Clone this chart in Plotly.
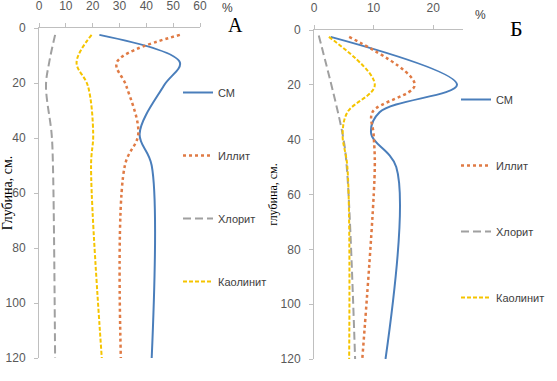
import plotly.graph_objects as go

# ---------------- data ----------------
series_names = ["СМ", "Иллит", "Хлорит", "Каолинит"]

# Panel А
depth_A = [2.5, 12.5, 21, 38.5, 50, 120]
A_cm = [22.5, 52.5, 46.5, 37.5, 42.0, 42.0]
A_illite = [52.5, 29.0, 32.5, 37.0, 32.0, 30.5]
A_chlorite = [6.0, 3.8, 2.6, 4.7, 5.2, 6.0]
A_kaolinite = [19.6, 14.0, 18.2, 20.2, 19.4, 23.4]

# Panel Б
depth_B = [2.5, 20, 30, 38, 50, 120]
B_cm = [2.8, 24.0, 11.0, 9.6, 13.8, 12.0]
B_illite = [5.9, 16.9, 9.8, 10.0, 10.2, 8.1]
depth_B_chl = [2.0, 38, 50, 120]
B_chlorite = [0.8, 4.8, 5.5, 6.9]
B_kaolinite = [2.5, 10.2, 5.6, 4.8, 5.6, 5.9]

x_ticks_A = [0, 10, 20, 30, 40, 50, 60]
x_ticks_B = [0, 10, 20]
y_ticks = [0, 20, 40, 60, 80, 100, 120]

# ---------------- styles ----------------
colors = {"СМ": "#4a7ebb", "Иллит": "#e07b45", "Хлорит": "#a0a0a0", "Каолинит": "#f5c400"}
dashes = {"СМ": "solid", "Иллит": "dot", "Хлорит": "8px,4px", "Каолинит": "4px,2px"}
widths = {"СМ": 2, "Иллит": 2.5, "Хлорит": 2, "Каолинит": 2}

W, H = 557, 381
fig = go.Figure()

panelA = [(depth_A, A_cm), (depth_A, A_illite), (depth_A, A_chlorite), (depth_A, A_kaolinite)]
panelB = [(depth_B, B_cm), (depth_B, B_illite), (depth_B_chl, B_chlorite), (depth_B, B_kaolinite)]

for name, (d, v) in zip(series_names, panelA):
    fig.add_trace(go.Scatter(
        x=v, y=d, mode="lines", name=name, legend="legend", legendgroup="A" + name,
        line=dict(color=colors[name], dash=dashes[name], width=widths[name], shape="spline", smoothing=1.0),
        xaxis="x", yaxis="y"))
for name, (d, v) in zip(series_names, panelB):
    fig.add_trace(go.Scatter(
        x=v, y=d, mode="lines", name=name, legend="legend2", legendgroup="B" + name,
        line=dict(color=colors[name], dash=dashes[name], width=widths[name], shape="spline", smoothing=1.0),
        xaxis="x2", yaxis="y2"))

axis_color = "#bfbfbf"
tick_font = dict(family="Liberation Sans", size=12, color="#595959")

common_x = dict(side="top", showgrid=False, zeroline=False, showline=True, linecolor=axis_color,
                linewidth=1, ticks="outside", ticklen=4, tickcolor=axis_color, tickfont=tick_font,
                ticklabelstandoff=8, automargin=False)
common_y = dict(showgrid=False, zeroline=False, showline=True, linecolor=axis_color, linewidth=1,
                ticks="outside", ticklen=4, tickcolor=axis_color, tickfont=tick_font,
                range=[120, 0], tickvals=y_ticks, ticklabelstandoff=6, automargin=False)

leg_font = dict(family="Liberation Sans", size=11, color="#404040")

fig.update_layout(
    width=W, height=H, margin=dict(l=0, r=0, t=0, b=0, autoexpand=False),
    paper_bgcolor="white", plot_bgcolor="white",
    xaxis=dict(domain=[39 / W, 200 / W], range=[0, 60], tickvals=x_ticks_A, anchor="y", **common_x),
    yaxis=dict(domain=[(H - 358) / H, (H - 28) / H], anchor="x",
               title=dict(text="Глубина, см.", font=dict(family="Liberation Serif", size=14, color="#000"), standoff=0),
               **common_y),
    xaxis2=dict(domain=[314 / W, 463 / W], range=[0, 25], tickvals=x_ticks_B, anchor="y2", **common_x),
    yaxis2=dict(domain=[(H - 359) / H, (H - 30) / H], anchor="x2",
                title=dict(text="глубина, см.", font=dict(family="Liberation Serif", size=12, color="#000"), standoff=0),
                **common_y),
    legend=dict(x=178 / W, y=1 - 78 / H, xanchor="left", yanchor="top", bgcolor="rgba(0,0,0,0)",
                font=leg_font, tracegroupgap=44, itemwidth=30),
    legend2=dict(x=456 / W, y=1 - 85 / H, xanchor="left", yanchor="top", bgcolor="rgba(0,0,0,0)",
                 font=leg_font, tracegroupgap=47, itemwidth=30),
    showlegend=True,
)

fig.add_annotation(text="%", x=227 / W, y=1 - 7 / H, yshift=8, xref="paper", yref="paper", showarrow=False,
                   font=dict(family="Liberation Sans", size=12, color="#404040"))
fig.add_annotation(text="%", x=488 / W, y=1 - 14 / H, yshift=8, xref="paper", yref="paper", showarrow=False,
                   font=dict(family="Liberation Sans", size=12, color="#404040"))
fig.add_annotation(text="А", x=235 / W, y=1 - 26 / H, yshift=14, xref="paper", yref="paper", showarrow=False,
                   font=dict(family="Liberation Serif", size=20, color="#000"))
fig.add_annotation(text="Б", x=525 / W, y=1 - 29 / H, yshift=15, xref="paper", yref="paper", showarrow=False,
                   font=dict(family="Liberation Serif", size=22, color="#000"))

fig.write_html("out.html", config={"displayModeBar": False})

with open("out.html", encoding="utf-8") as f:
    html = f.read()
html = html.replace("<head>", "<head><style>html,body{margin:0;padding:0;overflow:hidden;}</style>", 1)
with open("out.html", "w", encoding="utf-8") as f:
    f.write(html)
